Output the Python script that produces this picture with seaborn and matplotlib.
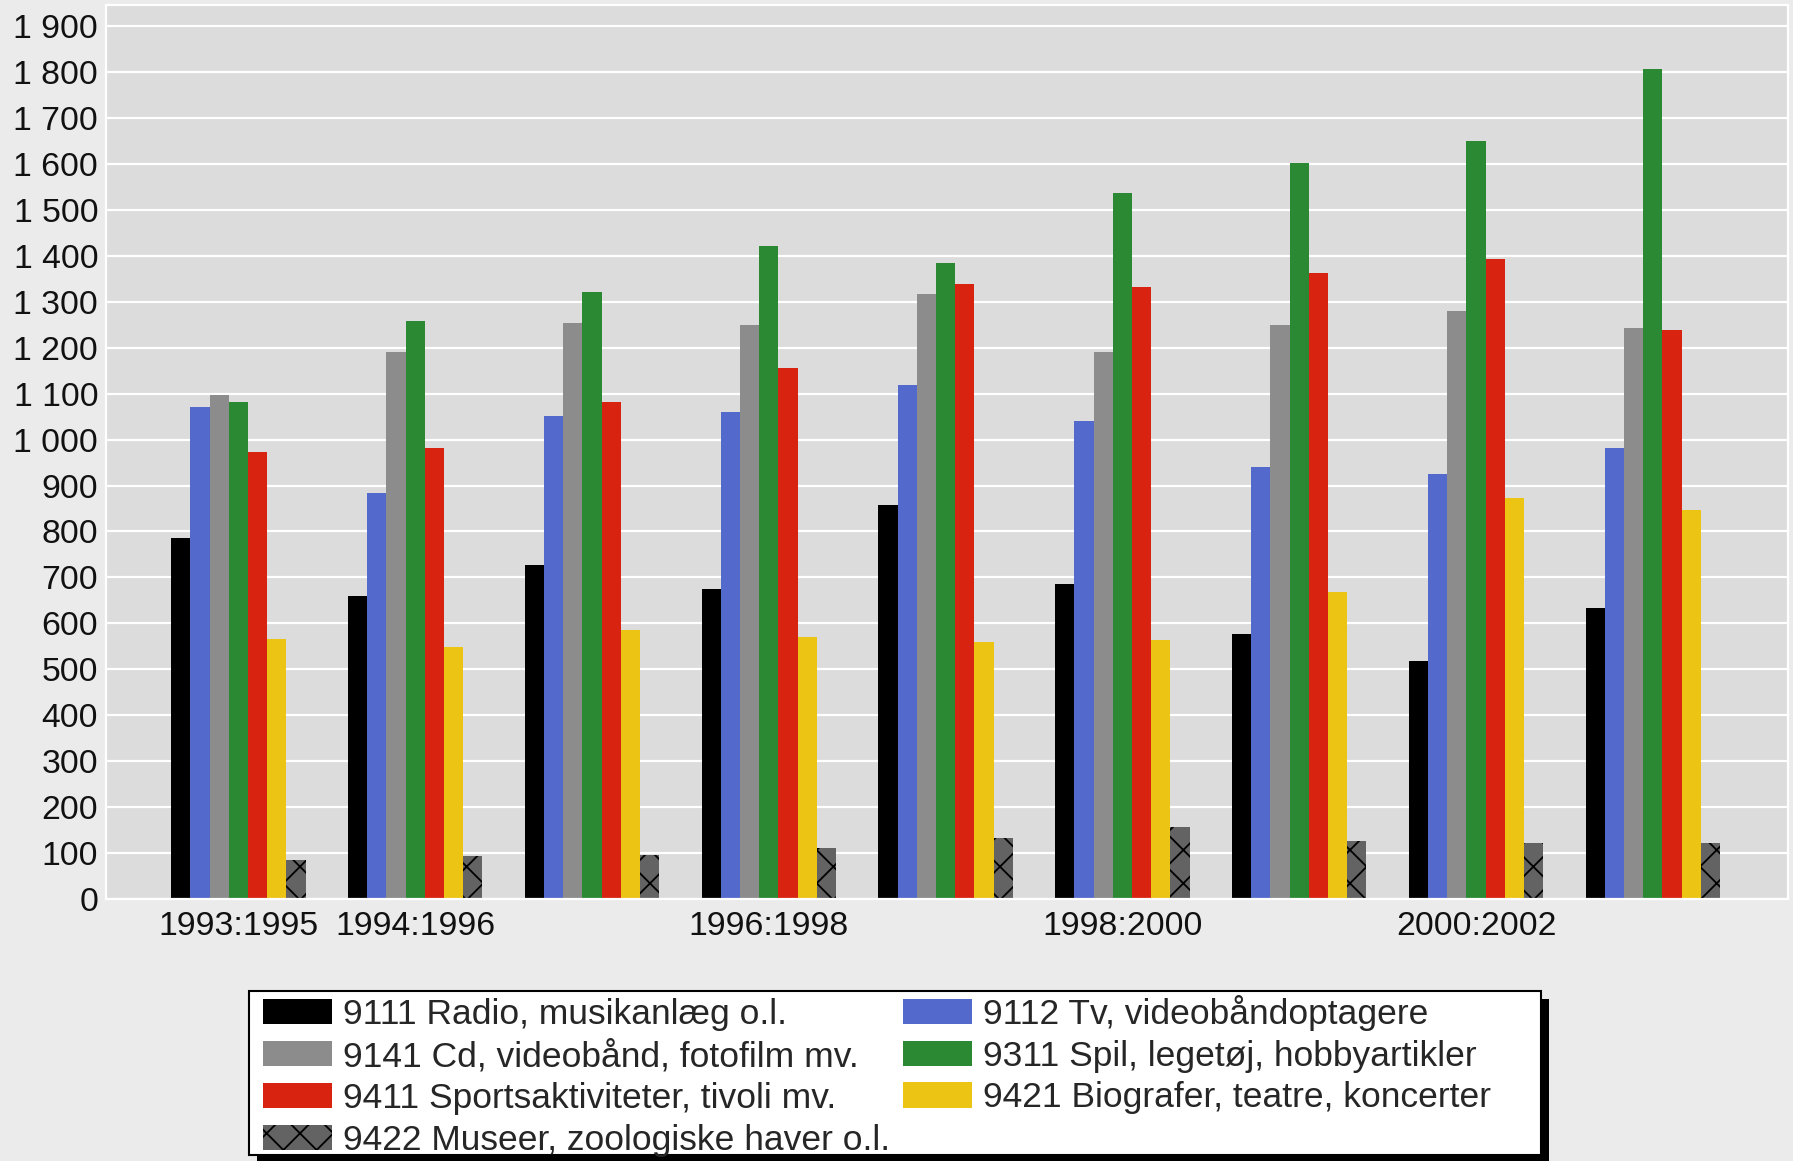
import matplotlib
matplotlib.use("Agg")
import matplotlib.pyplot as plt
from matplotlib.patches import Patch, Rectangle
from matplotlib.ticker import FuncFormatter, MultipleLocator
import seaborn as sns
import pandas as pd

# Periods (three-year averages) and consumption groups
periods = ["1993:1995", "1994:1996", "1995:1997", "1996:1998", "1997:1999",
           "1998:2000", "1999:2001", "2000:2002", "2001:2003"]
shown_periods = ["1993:1995", "1994:1996", "1996:1998", "1998:2000", "2000:2002"]

groups = ["9111 Radio, musikanlæg o.l.",
          "9112 Tv, videobåndoptagere",
          "9141 Cd, videobånd, fotofilm mv.",
          "9311 Spil, legetøj, hobbyartikler",
          "9411 Sportsaktiviteter, tivoli mv.",
          "9421 Biografer, teatre, koncerter",
          "9422 Museer, zoologiske haver o.l."]

radio = [785, 659, 726, 675, 857, 685, 576, 518, 633]
tv = [1071, 883, 1051, 1060, 1118, 1040, 941, 926, 982]
cd = [1097, 1191, 1254, 1249, 1317, 1191, 1249, 1280, 1243]
spil = [1082, 1259, 1321, 1421, 1384, 1536, 1603, 1650, 1807]
sport = [972, 982, 1082, 1155, 1338, 1333, 1363, 1394, 1238]
biograf = [565, 549, 585, 570, 559, 564, 669, 873, 847]
museer = [85, 94, 95, 111, 132, 157, 127, 121, 121]

colors = ["#000000", "#5369CC", "#8C8C8C", "#2A8932", "#D72310", "#ECC414", "#636363"]

series = [radio, tv, cd, spil, sport, biograf, museer]
df = pd.DataFrame(
    [(p, g, v) for g, vals in zip(groups, series) for p, v in zip(periods, vals)],
    columns=["periode", "gruppe", "kr"],
)

sns.set_theme(style="white")
plt.rcParams["font.family"] = ["Liberation Sans", "DejaVu Sans"]
plt.rcParams["hatch.linewidth"] = 1.3
plt.rcParams["hatch.color"] = "black"

TICK_FS = 24.3
LEG_FS = 25.5
W, H = 1793, 1161
fig = plt.figure(figsize=(W / 100, H / 100), dpi=100, facecolor="#EBEBEB")
ax = fig.add_axes([0.0590, 0.2257, 0.9382, 0.7700])
ax.set_facecolor("#DCDCDC")

sns.barplot(data=df, x="periode", y="kr", hue="gruppe", order=periods,
            hue_order=groups, palette=dict(zip(groups, colors)),
            width=0.76, gap=0, saturation=1, errorbar=None, legend=False, ax=ax)

for cont in ax.containers:
    for bar in cont.patches:
        bar.set_linewidth(0)
        bar.set_edgecolor("none")
for bar in ax.containers[6].patches:
    bar.set_edgecolor("black")
    bar.set_linewidth(0)
    bar.set_hatch("x")

ax.set_xlim(-0.75, 8.764)
ax.set_ylim(0, 1946)
ax.yaxis.set_major_locator(MultipleLocator(100))
ax.yaxis.set_major_formatter(FuncFormatter(lambda v, p: f"{int(round(v)):,}".replace(",", " ")))
ax.set_xticks([periods.index(p) for p in shown_periods])
ax.set_xticklabels(shown_periods)
ax.tick_params(axis="both", length=0, labelsize=TICK_FS, colors="#111111")
ax.tick_params(axis="y", pad=5.5)
ax.tick_params(axis="x", pad=9)
ax.set_xlabel("")
ax.set_ylabel("")
ax.grid(axis="y", color="white", linewidth=1.6)
ax.set_axisbelow(True)
for s in ax.spines.values():
    s.set_visible(True)
    s.set_color("white")
    s.set_linewidth(1.6)

# Legend box with a solid drop shadow
box_x0, box_x1 = 249 / W, 1541 / W
box_y0, box_y1 = 1 - 1155 / H, 1 - 990.7 / H
fig.patches.append(Rectangle((box_x0 + 8 / W, box_y0 - 8 / H), box_x1 - box_x0, box_y1 - box_y0,
                             transform=fig.transFigure, facecolor="black",
                             edgecolor="black", linewidth=0, zorder=1))
fig.patches.append(Rectangle((box_x0, box_y0), box_x1 - box_x0, box_y1 - box_y0,
                             transform=fig.transFigure, facecolor="white",
                             edgecolor="black", linewidth=1.5, zorder=2))

handles = []
for g, c in zip(groups, colors):
    if g.startswith("9422"):
        handles.append(Patch(facecolor=c, edgecolor="black", linewidth=0, hatch="x", label=g))
    else:
        handles.append(Patch(facecolor=c, edgecolor="none", linewidth=0, label=g))
order = [0, 2, 4, 6, 1, 3, 5]
leg = fig.legend([handles[i] for i in order], [groups[i] for i in order],
                 loc="upper left", bbox_to_anchor=(263 / W, 1 - 994.7 / H), ncol=2,
                 fontsize=LEG_FS, frameon=False, borderpad=0,
                 handlelength=1.95, handleheight=0.72, handletextpad=0.3,
                 labelspacing=0.25, columnspacing=0.38, borderaxespad=0)
leg.set_zorder(5)

fig.savefig("out.png", dpi=100, facecolor=fig.get_facecolor())
